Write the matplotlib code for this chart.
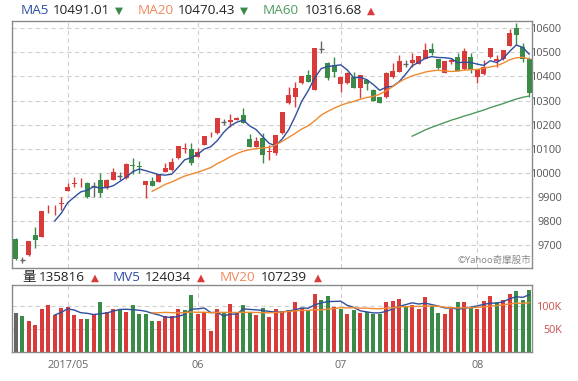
import numpy as np
import pandas as pd
import matplotlib
matplotlib.use("Agg")
import matplotlib.pyplot as plt

plt.rcParams['font.family'] = ['Open Sans', 'Noto Sans CJK TC', 'DejaVu Sans']

# ---------------- data ----------------
opens = [9726, 9640, 9658, 9743, 9736, 9858, 9862, 9873, 9927, 9956,
         9967, 9957, 9947, 9969, 9939, 9971, 9988, 9978, 10032, 10028,
         9951, 9968, 9964, 10005, 10012, 10061, 10098, 10098, 10068, 10116,
         10160, 10164, 10213, 10212, 10220, 10239, 10139, 10109, 10144, 10088,
         10081, 10164, 10289, 10316, 10372, 10406, 10344, 10515, 10457, 10446,
         10369, 10372, 10399, 10351, 10386, 10344, 10314, 10314, 10397, 10420,
         10452, 10457, 10452, 10473, 10514, 10471, 10416, 10458, 10480, 10430,
         10482, 10399, 10409, 10480, 10464, 10471, 10527, 10601, 10524, 10473]
highs = [9730, 9653, 9720, 9775, 9842, 9867, 9866, 9902, 9957, 9982,
         9978, 9963, 9964, 10001, 9975, 10019, 10005, 10040, 10061, 10050,
         9968, 9982, 9996, 10040, 10061, 10112, 10123, 10123, 10102, 10153,
         10168, 10227, 10222, 10243, 10232, 10268, 10161, 10151, 10164, 10116,
         10157, 10251, 10358, 10379, 10402, 10427, 10517, 10549, 10460, 10482,
         10397, 10420, 10420, 10404, 10388, 10346, 10316, 10418, 10455, 10489,
         10468, 10496, 10485, 10538, 10538, 10473, 10464, 10475, 10499, 10517,
         10496, 10431, 10468, 10520, 10489, 10510, 10596, 10621, 10538, 10480]
lows = [9640, 9625, 9655, 9688, 9733, 9833, 9826, 9846, 9925, 9943,
        9943, 9897, 9902, 9902, 9935, 9969, 9971, 9975, 9996, 10000,
        9898, 9945, 9962, 10003, 10010, 10058, 10081, 10033, 10065, 10114,
        10148, 10162, 10199, 10192, 10218, 10206, 10109, 10107, 10040, 10054,
        10074, 10162, 10287, 10275, 10370, 10379, 10342, 10496, 10386, 10399,
        10337, 10370, 10351, 10310, 10344, 10298, 10290, 10312, 10395, 10418,
        10441, 10441, 10450, 10471, 10489, 10430, 10413, 10453, 10423, 10428,
        10416, 10372, 10407, 10478, 10441, 10469, 10525, 10531, 10462, 10314]
closes = [9642, 9640, 9718, 9722, 9842, 9860, 9863, 9876, 9943, 9957,
          9968, 9899, 9947, 9916, 9969, 10003, 9988, 10036, 10030, 10025,
          9968, 9947, 9996, 10019, 10044, 10112, 10102, 10040, 10087, 10153,
          10162, 10227, 10213, 10220, 10229, 10206, 10109, 10133, 10074, 10091,
          10157, 10251, 10323, 10351, 10402, 10379, 10517, 10515, 10392, 10420,
          10397, 10413, 10351, 10404, 10368, 10298, 10292, 10416, 10423, 10464,
          10452, 10468, 10485, 10510, 10496, 10434, 10464, 10468, 10423, 10507,
          10427, 10431, 10441, 10520, 10471, 10510, 10579, 10572, 10471, 10330]
volumes = [85400, 77300, 68400, 59500, 92900, 101800, 79400, 96600, 98800, 79400,
           72800, 72800, 83200, 107600, 87600, 92900, 90600, 86100, 101800, 82400,
           81700, 68400, 68400, 78000, 78000, 94300, 90600, 124000, 82400, 86900,
           44600, 92900, 83900, 103900, 85400, 101800, 87600, 79400, 96600, 75700,
           94300, 89200, 91300, 107600, 96600, 90600, 126300, 112900, 121100, 98800,
           92900, 81700, 90600, 83900, 86900, 81700, 81700, 107600, 109900, 115100,
           100200, 101800, 94300, 118900, 100200, 83900, 81700, 92900, 107600, 107600,
           98000, 94300, 109900, 121100, 107600, 113700, 126300, 132200, 113700, 135816]
month_idx = [8, 28, 50, 71]
month_labels = ['2017/05', '06', '07', '08']
price_ticks = [9700, 9800, 9900, 10000, 10100, 10200, 10300, 10400, 10500, 10600]
vol_ticks = [50000, 100000]
vol_tick_labels = ['50K', '100K']

hdr_ma = [('MA5', '10491.01', '▼'), ('MA20', '10470.43', '▼'), ('MA60', '10316.68', '▲')]
hdr_vol = [('量', '135816', '▲'), ('MV5', '124034', '▲'), ('MV20', '107239', '▲')]

# ---------------- styles ----------------
RED = '#d93a3a'
GREEN = '#3a8a48'
GRAY = '#666666'
C_MA5 = '#2f4f9e'
C_MA20 = '#f08a30'
C_MA60 = '#4f9a5e'
GRID = '#cfcfcf'
SPINE = '#8a8a8a'

W, H = 578, 381
fig = plt.figure(figsize=(W / 100, H / 100), dpi=100)
fig.patch.set_facecolor('white')

def fx(px):
    return px / W

def fy(py):
    return 1 - py / H

ax = fig.add_axes([fx(12), fy(268), fx(520), (268 - 20.5) / H])
axv = fig.add_axes([fx(12), fy(352), fx(520), (352 - 284.5) / H])

o = np.array(opens, float)
hi = np.array(highs, float)
lo = np.array(lows, float)
c = np.array(closes, float)
v = np.array(volumes, float)
x = np.arange(len(c))

def rolling(arr, n):
    s = pd.Series(arr).rolling(n).mean()
    s[: n + 1] = np.nan
    return s.values

ma5, ma20, ma60 = rolling(c, 5), rolling(c, 20), rolling(c, 60)
mv5, mv20 = rolling(v, 5), rolling(v, 20)

# candle colours
ccol = [RED if cc > oo else (GREEN if cc < oo else GRAY) for oo, cc in zip(o, c)]
# volume colours by change vs previous close
vcol = [GRAY] + [RED if c[i] > c[i - 1] else (GREEN if c[i] < c[i - 1] else GRAY)
                 for i in range(1, len(c))]

# ---------------- price panel ----------------
for m in month_idx:
    ax.axvline(m, color=GRID, lw=0.8, ls=(0, (4, 3)), zorder=0)
    axv.axvline(m, color=GRID, lw=0.8, ls=(0, (4, 3)), zorder=0)

ax.vlines(x, lo, hi, colors=ccol, lw=1, zorder=2)
bot = np.minimum(o, c)
hgt = np.abs(c - o)
ax.bar(x, hgt, bottom=bot, width=0.72, color=ccol, zorder=3, linewidth=0)
doji = hgt < 1
ax.hlines(c[doji], x[doji] - 0.36, x[doji] + 0.36, colors=GRAY, lw=1, zorder=3)

ax.plot(x, ma5, color=C_MA5, lw=1, zorder=4)
ax.plot(x, ma20, color=C_MA20, lw=1, zorder=4)
ax.plot(x, ma60, color=C_MA60, lw=1, zorder=4)

ax.set_xlim(-0.57, 79.43)
ax.set_ylim(9606, 10632)
ax.set_yticks(price_ticks)
ax.yaxis.grid(True, color=GRID, lw=0.8, ls=(0, (4, 3)))
ax.set_axisbelow(True)
ax.set_xticks([])
ax.yaxis.tick_right()
ax.tick_params(axis='y', length=0, pad=21.6, labelsize=7.8, labelcolor='#555555')
for t in ax.get_yticklabels():
    t.set_horizontalalignment('right')
for s in ax.spines.values():
    s.set_color(SPINE)
    s.set_linewidth(1)

ax.text(0.9985, 0.012, '©Yahoo奇摩股市', transform=ax.transAxes, ha='right', va='bottom',
        fontsize=6.8, color='#8a8a8a', family=['Open Sans', 'Noto Sans CJK TC', 'DejaVu Sans'])

# ---------------- volume panel ----------------
axv.bar(x, v, width=0.62, color=vcol, linewidth=0, zorder=2)
axv.plot(x, mv5, color=C_MA5, lw=1, zorder=3)
axv.plot(x, mv20, color=C_MA20, lw=1, zorder=3)
axv.set_xlim(-0.57, 79.43)
axv.set_ylim(0, 146700)
axv.set_yticks(vol_ticks)
axv.set_yticklabels(vol_tick_labels)
axv.yaxis.grid(True, color=GRID, lw=0.8, ls=(0, (4, 3)))
axv.set_axisbelow(True)
axv.yaxis.tick_right()
axv.tick_params(axis='y', length=0, pad=21.6, labelsize=7.8, labelcolor='#c8504f')
for t in axv.get_yticklabels():
    t.set_horizontalalignment('right')
axv.set_xticks(month_idx)
axv.set_xticklabels(month_labels)
axv.tick_params(axis='x', length=0, pad=6, labelsize=7.8, labelcolor='#666666')
for s in axv.spines.values():
    s.set_color(SPINE)
    s.set_linewidth(1)

# ---------------- headers ----------------
FS = 9.7
name_cols = [C_MA5, '#ee8a5e', C_MA60]
pos1 = [(20.7, 53, 115), (138, 178, 240), (263, 305, 367)]
for (nm, val, arr), col, (x1, x2, x3) in zip(hdr_ma, name_cols, pos1):
    fig.text(fx(x1), fy(10.5), nm, color=col, fontsize=FS, va='center', ha='left')
    fig.text(fx(x2), fy(10.5), val, color='#222222', fontsize=FS, va='center', ha='left')
    fig.text(fx(x3), fy(10.5), arr, color=GREEN if arr == '▼' else RED, fontsize=7.5,
             va='center', ha='left', family=['DejaVu Sans'])

name_cols2 = ['#222222', C_MA5, '#ee8a5e']
pos2 = [(22.7, 39, 91), (113, 145, 197), (220, 261, 314)]
for (nm, val, arr), col, (x1, x2, x3) in zip(hdr_vol, name_cols2, pos2):
    fig.text(fx(x1), fy(277.5), nm, color=col, fontsize=FS, va='center', ha='left')
    fig.text(fx(x2), fy(277.5), val, color='#222222', fontsize=FS, va='center', ha='left')
    fig.text(fx(x3), fy(277.5), arr, color=GREEN if arr == '▼' else RED, fontsize=7.5,
             va='center', ha='left', family=['DejaVu Sans'])

fig.savefig('out.png', dpi=100, facecolor='white')
